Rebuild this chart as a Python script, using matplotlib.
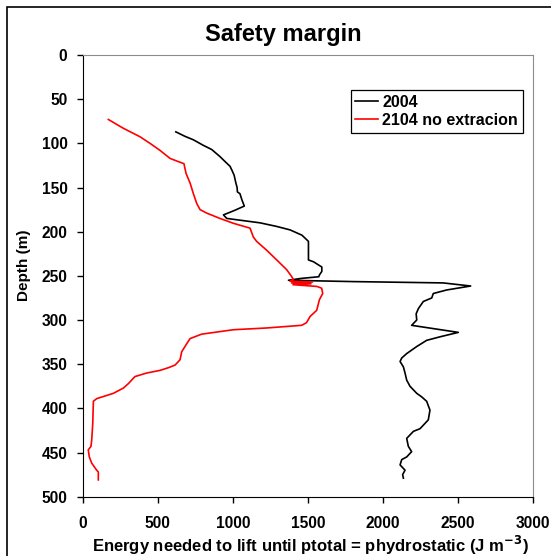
import matplotlib
matplotlib.use("Agg")
import matplotlib.pyplot as plt
from matplotlib.patches import Rectangle

plt.rcParams['font.family'] = ['Liberation Sans', 'DejaVu Sans']
plt.rcParams['font.weight'] = 'bold'

# Depth profiles (m) and lift energy (J m^-3)
depth_2004 = [87, 92, 96, 102, 107, 115, 121, 126, 131, 136,
              145, 150, 155, 157, 164, 171, 176, 181, 185, 190,
              194, 198, 204, 211, 220, 232, 234, 240, 245, 249,
              251, 253, 255, 256.5, 258, 261.5, 266, 270, 275, 279,
              287, 293, 300, 306, 314, 319, 323, 330, 338, 343,
              347, 353, 360, 368, 375, 383, 387, 392, 402, 413,
              423, 426, 434, 443, 449, 455, 458, 464, 470, 475,
              479]
energy_2004 = [620, 680, 737, 800, 859, 914, 950, 981, 995, 1008,
               1020, 1028, 1030, 1047, 1060, 1076, 1010, 937, 959, 1181,
               1290, 1381, 1460, 1503, 1503, 1503, 1536, 1592, 1592, 1576,
               1572, 1449, 1370, 1800, 2400, 2583, 2423, 2334, 2324, 2268,
               2235, 2220, 2224, 2190, 2501, 2379, 2290, 2224, 2157, 2124,
               2113, 2135, 2146, 2157, 2179, 2224, 2257, 2290, 2312, 2301,
               2246, 2202, 2157, 2168, 2190, 2157, 2124, 2113, 2146, 2130,
               2135]

depth_2104 = [73, 83, 92.5, 100, 108, 117, 120, 123, 134, 145,
              157, 168, 175, 179, 185, 190.5, 196, 206, 211, 221,
              232, 243, 251, 254, 256, 257, 258, 259, 260, 262,
              264, 270, 277, 289, 296, 303, 306, 309, 311, 316,
              321, 328, 336, 345, 351, 354, 357, 360, 364, 372,
              377, 383, 389, 392, 417, 436, 443, 447, 455, 462,
              470, 472, 481]
energy_2104 = [171, 271, 381, 448, 515, 581, 626, 674, 688, 715,
               737, 759, 781, 826, 914, 1003, 1114, 1136, 1158, 1225,
               1292, 1358, 1392, 1402, 1380, 1530, 1390, 1520, 1400, 1560,
               1591, 1598, 1576, 1558, 1514, 1490, 1458, 1225, 1003, 792,
               715, 688, 659, 648, 615, 570, 515, 426, 348, 304,
               271, 204, 93, 71, 67, 60, 55, 37, 44, 60,
               93, 104, 104]

W, H = 551, 556
fig = plt.figure(figsize=(W / 100, H / 100), dpi=100)
ax = fig.add_axes([82.7 / W, 1 - 496.7 / H, (533.3 - 82.7) / W, (496.7 - 55) / H])

ax.plot(energy_2004, depth_2004, color='black', lw=1.2, label='2004')
ax.plot(energy_2104, depth_2104, color='#ff0000', lw=1.2, label='2104 no extracion')

ax.set_xlim(0, 3000)
ax.set_ylim(500, 0)
ax.set_xticks(range(0, 3001, 500))
ax.set_yticks(range(0, 501, 50))
ax.tick_params(axis='both', direction='out', length=4, width=1, labelsize=11.2)
ax.tick_params(axis='x', pad=10)
ax.tick_params(axis='y', pad=7)

for side in ('top', 'right'):
    ax.spines[side].set_color('#8c8c8c')
for side in ('left', 'bottom'):
    ax.spines[side].set_color('black')

ax.set_xlabel('Energy needed to lift until ptotal = phydrostatic (J m$^{\\mathbf{-3}}$)',
              fontsize=12, fontweight='bold')
ax.xaxis.set_label_coords((310 - 82.7) / 450.6, -(545 - 496.7) / 441.7)
ax.xaxis.label.set_va('center')
ax.set_ylabel('Depth (m)', fontsize=11, fontweight='bold')
ax.yaxis.set_label_coords((24 - 82.7) / 450.6, 1 - (265 - 55) / 441.7)
ax.yaxis.label.set_va('center')

fig.text(283 / W, 1 - 34 / H, 'Safety margin', ha='center', va='center',
         fontsize=17, fontweight='bold')

leg = ax.legend(loc='upper right', bbox_to_anchor=(523 / W, 1 - 90 / H),
                bbox_transform=fig.transFigure, fancybox=False, framealpha=1,
                edgecolor='black', fontsize=11.5, handlelength=1.4,
                handletextpad=0.3, borderpad=0.3, labelspacing=0.2,
                borderaxespad=0)
leg.get_frame().set_linewidth(0.9)

# outer chart border
fig.add_artist(Rectangle((7 / W, -0.1), 1.2, (1 - 7 / H) + 0.1,
                         transform=fig.transFigure, fill=False,
                         ec='black', lw=1.2))

fig.savefig('out.png', dpi=100)
